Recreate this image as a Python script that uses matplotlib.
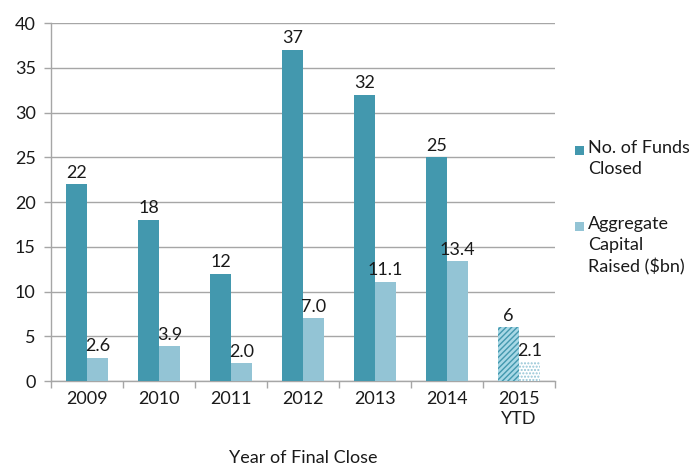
import matplotlib
matplotlib.use("Agg")
import matplotlib.pyplot as plt
from matplotlib.patches import Rectangle
import numpy as np

categories = ["2009", "2010", "2011", "2012", "2013", "2014", "2015\nYTD"]
funds_closed = [22, 18, 12, 37, 32, 25, 6]
capital_raised = [2.6, 3.9, 2.0, 7.0, 11.1, 13.4, 2.1]
series_labels = ["No. of Funds\nClosed", "Aggregate\nCapital\nRaised ($bn)"]

plt.rcParams['font.family'] = ['Lato', 'DejaVu Sans']

dark = '#4398AE'
light = '#93C4D5'
grid_c = '#A6A6A6'
txt_c = '#1a1a1a'
fs = 13

fig = plt.figure(figsize=(6.99, 4.71), dpi=100)
ax = fig.add_axes([0.073, 0.191, 0.721, 0.76])

x = np.arange(len(categories))
w = 0.29
n = len(categories)
for i in range(n):
    if i == n - 1:
        ax.bar(x[i] - w/2, funds_closed[i], w, facecolor='#A8D8E6', edgecolor=dark, hatch='//////', linewidth=0, zorder=3)
        ax.bar(x[i] + w/2, capital_raised[i], w, facecolor='white', edgecolor=light, hatch='.....', linewidth=0, zorder=3)
    else:
        ax.bar(x[i] - w/2, funds_closed[i], w, color=dark, zorder=3)
        ax.bar(x[i] + w/2, capital_raised[i], w, color=light, zorder=3)
    ax.text(x[i] - w/2, funds_closed[i] + 0.4, f"{funds_closed[i]}", ha='center', va='bottom', fontsize=fs, color=txt_c, zorder=4)
    ax.text(x[i] + w/2, capital_raised[i] + 0.4, f"{capital_raised[i]:.1f}", ha='center', va='bottom', fontsize=fs, color=txt_c, zorder=4)

ax.set_xlim(-0.5, n - 0.5)
ax.set_ylim(0, 40)
ax.set_yticks(range(0, 41, 5))
ax.yaxis.grid(True, color=grid_c, linewidth=1, zorder=0)
ax.set_axisbelow(True)

ax.set_xticks(x)
ax.set_xticklabels(categories, fontsize=fs, linespacing=1.35)
ax.set_xticks(np.arange(-0.5, n, 1.0), minor=True)
ax.tick_params(axis='x', which='major', length=0, pad=7)
ax.tick_params(axis='x', which='minor', length=5, color=grid_c, width=1)
ax.tick_params(axis='y', length=5, color=grid_c, width=1, labelsize=fs, pad=6, labelcolor=txt_c)
ax.tick_params(axis='x', labelcolor=txt_c)

for s in ['top', 'right']:
    ax.spines[s].set_visible(False)
for s in ['left', 'bottom']:
    ax.spines[s].set_color(grid_c)
    ax.spines[s].set_linewidth(1)

ax.set_xlabel("Year of Final Close", fontsize=fs, labelpad=16, color=txt_c)

# legend drawn manually so the marker sits by the first text line
W, H = 699, 471
legend_items = [(dark, series_labels[0], 150), (light, series_labels[1], 226)]
for col, lab, ypix in legend_items:
    fig.patches.append(Rectangle((575 / W, 1 - (ypix + 5) / H), 9 / W, 9 / H,
                                 transform=fig.transFigure, facecolor=col, edgecolor='none'))
    fig.text(588 / W, 1 - (ypix - 10) / H, lab, ha='left', va='top', fontsize=fs,
             color=txt_c, linespacing=1.38)

fig.savefig("out.png", dpi=100)
